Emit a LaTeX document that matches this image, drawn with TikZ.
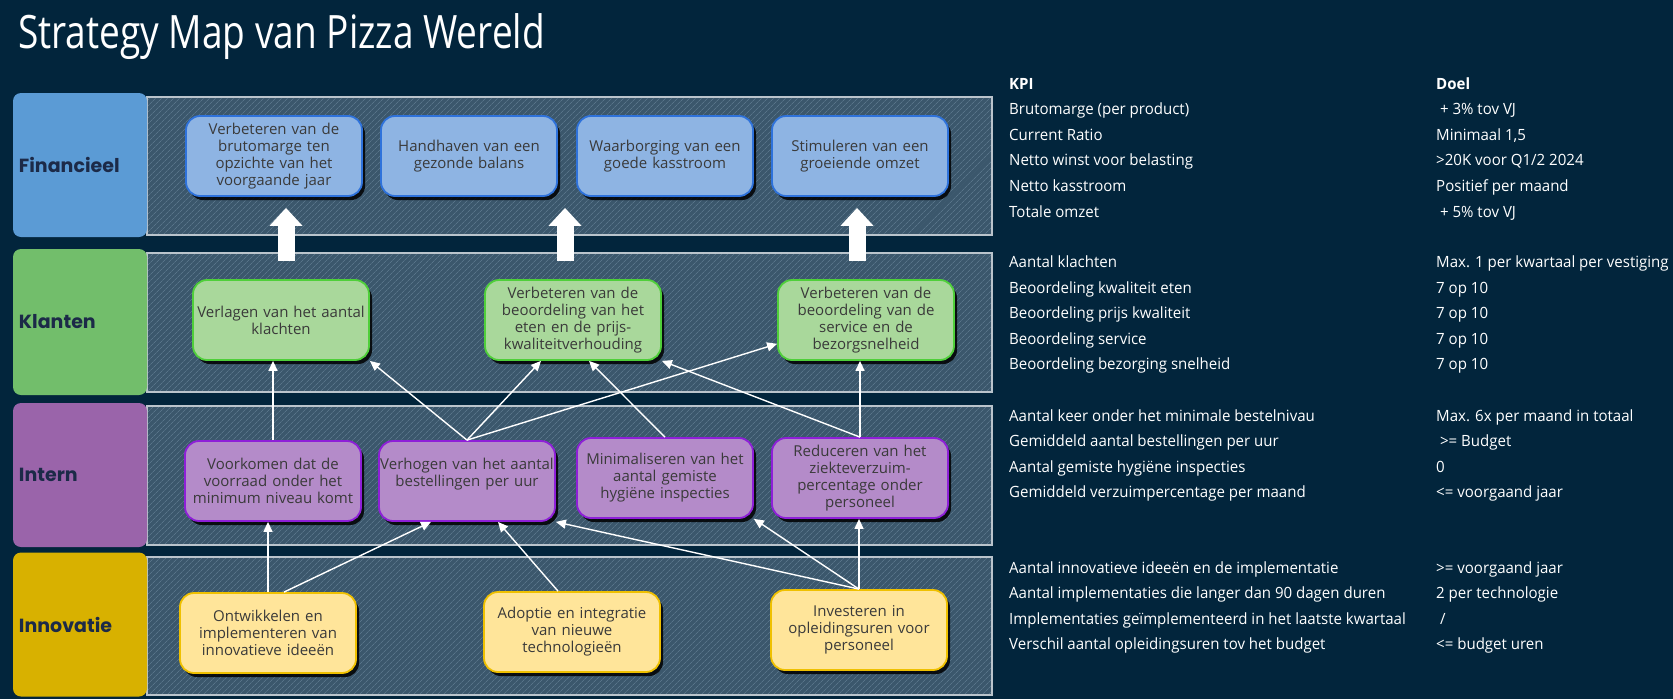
\documentclass[tikz,border=0pt]{standalone}
\usepackage{fontspec}
\setmainfont{Open Sans}
\newfontfamily\titlefont{Open Sans}[FakeStretch=0.805]
\newfontfamily\kpifont{Open Sans}[FakeStretch=0.97]
\newfontfamily\lanefont{Poppins}
\usetikzlibrary{arrows.meta,positioning,shadows,patterns.meta,calc}

\definecolor{navy}{HTML}{02253C}
\definecolor{bandfill}{HTML}{3B576C}
\definecolor{hatch}{HTML}{587489}
\definecolor{lanetext}{HTML}{1C2A48}
\definecolor{boxtext}{HTML}{3A3A3A}
\definecolor{finlane}{HTML}{5B9BD5}
\definecolor{finfill}{HTML}{8EB4E3}
\definecolor{finline}{HTML}{2E72DB}
\definecolor{kllane}{HTML}{72BE6B}
\definecolor{klfill}{HTML}{A9D89B}
\definecolor{klline}{HTML}{4FCF3A}
\definecolor{intlane}{HTML}{9A64AA}
\definecolor{intfill}{HTML}{B48BC9}
\definecolor{intline}{HTML}{8E1FD8}
\definecolor{innlane}{HTML}{D8B100}
\definecolor{innfill}{HTML}{FFE59A}
\definecolor{innline}{HTML}{EFC000}

\begin{document}
\begin{tikzpicture}[x=1pt,y=-1pt,
lane/.style={rounded corners=8pt,minimum width=134pt,minimum height=144pt,text width=122pt,inner sep=6pt,align=left,text=lanetext,font=\lanefont\bfseries\fontsize{19}{22}\selectfont},
band/.style={fill=bandfill,postaction={pattern={Lines[angle=45,distance=4pt,line width=0.7pt]},pattern color=hatch},postaction={draw=white!65!bandfill,line width=1.3pt}},
goal/.style={rounded corners=14pt,line width=1.8pt,text width=174pt,minimum height=80pt,inner sep=1pt,align=center,text=boxtext,font=\fontsize{15}{17}\selectfont,drop shadow={shadow xshift=3pt,shadow yshift=-4pt,fill=black,opacity=0.85}},
finbox/.style={goal,draw=finline,fill=finfill},
klbox/.style={goal,draw=klline,fill=klfill},
intbox/.style={goal,draw=intline,fill=intfill},
innbox/.style={goal,draw=innline,fill=innfill},
arr/.style={-{Triangle[length=10pt,width=9pt]},white,line width=1.4pt},
bigarr/.style={-{Triangle[length=18pt,width=32pt]},white,line width=17pt,shorten <=18pt,shorten >=11pt},
kpitext/.style={anchor=base west,inner sep=0pt,text=white,font=\kpifont\fontsize{15.5}{25.6}\selectfont}]
\fill[navy](0,0)rectangle(1673,699);
\useasboundingbox(0,0)rectangle(1673,699);
\node[anchor=base west,inner sep=0pt,text=white,font=\titlefont\fontsize{46}{52}\selectfont](title)at(18,48){Strategy Map van Pizza Wereld};
% perspectives
\draw[band](147,97)rectangle(992,235);
\draw[band](147,253)rectangle(992,392);
\draw[band](147,406)rectangle(992,545);
\draw[band](147,557)rectangle(992,695);
\node[lane,fill=finlane](finlane)at(80,165){Financieel};
\node[lane,fill=kllane,minimum height=146pt](kllane)at(80,322){Klanten};
\node[lane,fill=intlane](intlane)at(80,475){Intern};
\node[lane,fill=innlane](innlane)at(80,624.5){Innovatie};
% goals
\node[finbox](fin1)at(274,156){Verbeteren van de\\ brutomarge ten\\ opzichte van het\\ voorgaande jaar};
\node[finbox](fin2)at(469,156){Handhaven van een\\ gezonde balans};
\node[finbox](fin3)at(665,156){Waarborging van een\\ goede kasstroom};
\node[finbox](fin4)at(860,156){Stimuleren van een\\ groeiende omzet};
\node[klbox](kl1)at(281,320){Verlagen van het aantal\\ klachten};
\node[klbox](kl2)at(573,320){Verbeteren van de\\ beoordeling van het\\ eten en de prijs-\\ kwaliteitverhouding};
\node[klbox](kl3)at(866,320){Verbeteren van de\\ beoordeling van de\\ service en de\\ bezorgsnelheid};
\node[intbox](int1)at(273,481){Voorkomen dat de\\ voorraad onder het\\ minimum niveau komt};
\node[intbox](int2)at(467,481){Verhogen van het aantal\\ bestellingen per uur\\ \mbox{}};
\node[intbox](int3)at(665,478){Minimaliseren van het\\ aantal gemiste\\ hygiëne inspecties};
\node[intbox](int4)at(860,478){Reduceren van het\\ ziekteverzuim-\\ percentage onder\\ personeel};
\node[innbox](inn1)at(268,633){Ontwikkelen en\\ implementeren van\\ innovatieve ideeën};
\node[innbox](inn2)at(572,632){Adoptie en integratie\\ van nieuwe\\ technologieën};
\node[innbox](inn3)at(859,630){Investeren in\\ opleidingsuren voor\\ personeel};
% cause and effect
\draw[bigarr]([xshift=5pt]kl1.north)--([xshift=5pt]kl1.north |- fin1.south);
\draw[bigarr]([xshift=-8pt]kl2.north)--([xshift=-8pt]kl2.north |- fin1.south);
\draw[bigarr]([xshift=-9pt]kl3.north)--([xshift=-9pt]kl3.north |- fin1.south);
\draw[arr](int1.north)--(int1.north |- kl1.south);
\draw[arr](int2.north)--(kl1.south east);
\draw[arr](int2.north)--([xshift=-32pt]kl2.south);
\draw[arr](int2.north)--(kl3.195);
\draw[arr](int3.north)--([xshift=16pt]kl2.south);
\draw[arr](int4.north)--(kl2.south east);
\draw[arr](int4.north)--(int4.north |- kl3.south);
\draw[arr](inn1.north)--(inn1.north |- int1.south);
\draw[arr]([xshift=16pt]inn1.north)--([xshift=-36pt]int2.south);
\draw[arr]([xshift=-14pt]inn2.north)--([xshift=31pt]int2.south);
\draw[arr](inn3.north)--(int2.south east);
\draw[arr](inn3.north)--(int3.south east);
\draw[arr](inn3.north)--(inn3.north |- int4.south);
% KPI's and targets
\node[kpitext](kpifin)at(1009,89){\begin{tabular}[t]{@{}p{427pt}@{}l@{}}
\textbf{KPI} & \textbf{Doel}\\
Brutomarge (per product) & \ + 3\% tov VJ\\
Current Ratio & Minimaal 1,5\\
Netto winst voor belasting & >20K voor Q1/2 2024\\
Netto kasstroom & Positief per maand\\
Totale omzet & \ + 5\% tov VJ
\end{tabular}};
\node[kpitext](kpikl)at(1009,267.5){\begin{tabular}[t]{@{}p{427pt}@{}l@{}}
Aantal klachten & Max. 1 per kwartaal per vestiging\\
Beoordeling kwaliteit eten & 7 op 10\\
Beoordeling prijs kwaliteit & 7 op 10\\
Beoordeling service & 7 op 10\\
Beoordeling bezorging snelheid & 7 op 10
\end{tabular}};
\node[kpitext](kpiint)at(1009,421){\begin{tabular}[t]{@{}p{427pt}@{}l@{}}
Aantal keer onder het minimale bestelnivau & Max. 6x per maand in totaal\\
Gemiddeld aantal bestellingen per uur & \ >= Budget\\
Aantal gemiste hygiëne inspecties & 0\\
Gemiddeld verzuimpercentage per maand & <= voorgaand jaar
\end{tabular}};
\node[kpitext](kpiinn)at(1009,573){\begin{tabular}[t]{@{}p{427pt}@{}l@{}}
Aantal innovatieve ideeën en de implementatie & >= voorgaand jaar\\
Aantal implementaties die langer dan 90 dagen duren & 2 per technologie\\
Implementaties geïmplementeerd in het laatste kwartaal & \ /\\
Verschil aantal opleidingsuren tov het budget & <= budget uren
\end{tabular}};
\end{tikzpicture}
\end{document}
